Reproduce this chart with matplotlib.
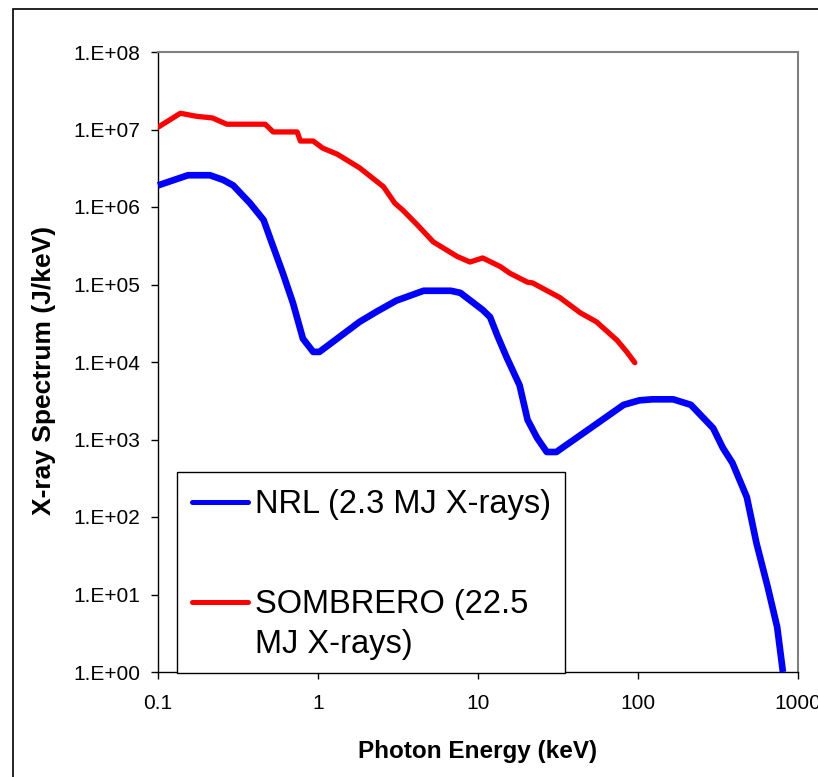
import matplotlib
matplotlib.use("Agg")
import matplotlib.pyplot as plt
from matplotlib.patches import Rectangle
from matplotlib.lines import Line2D
from matplotlib.ticker import FixedLocator, FixedFormatter

plt.rcParams['font.family'] = ['Liberation Sans', 'DejaVu Sans']

# ---- data ----
nrl_energy = [0.1, 0.154, 0.211, 0.255, 0.295, 0.376, 0.457, 0.513, 0.603, 0.698,
              0.805, 0.933, 1.02, 1.23, 1.82, 2.34, 3.09, 4.57, 6.76, 7.76,
              10.7, 11.9, 13.2, 15.1, 18.2, 20.4, 23.4, 26.9, 30.9, 33.9,
              47.9, 81.3, 102, 123, 166, 214, 295, 339, 389, 479,
              550, 646, 741, 805]
nrl_values = [1.9e6, 2.57e6, 2.57e6, 2.24e6, 1.9e6, 1.12e6, 6.8e5, 3.5e5, 1.4e5, 5.75e4,
              2.0e4, 1.35e4, 1.35e4, 1.8e4, 3.3e4, 4.5e4, 6.2e4, 8.3e4, 8.3e4, 7.8e4,
              4.7e4, 3.8e4, 2.2e4, 1.15e4, 5.0e3, 1.8e3, 1.05e3, 6.9e2, 6.9e2, 7.9e2,
              1.3e3, 2.8e3, 3.2e3, 3.3e3, 3.3e3, 2.8e3, 1.4e3, 7.8e2, 5.0e2, 1.8e2,
              46, 12.6, 3.8, 1.0]

sombrero_energy = [0.1, 0.138, 0.174, 0.219, 0.269, 0.468, 0.525, 0.741, 0.776, 0.933,
                   1.07, 1.32, 1.82, 2.57, 3.02, 3.39, 4.17, 5.25, 7.41, 8.91,
                   10.7, 13.8, 15.8, 20.4, 21.9, 32.4, 43.7, 55.0, 74.1, 85.1, 95.5]
sombrero_values = [1.07e7, 1.62e7, 1.48e7, 1.41e7, 1.17e7, 1.17e7, 9.3e6, 9.3e6, 7.1e6, 7.1e6,
                   5.75e6, 4.8e6, 3.2e6, 1.82e6, 1.12e6, 9.1e5, 5.9e5, 3.55e5, 2.3e5, 1.95e5,
                   2.2e5, 1.7e5, 1.4e5, 1.07e5, 1.05e5, 6.8e4, 4.3e4, 3.3e4, 1.9e4, 1.35e4, 9.8e3]

x_ticks = [0.1, 1, 10, 100, 1000]
x_tick_labels = ["0.1", "1", "10", "100", "1000"]
y_ticks = [1e0, 1e1, 1e2, 1e3, 1e4, 1e5, 1e6, 1e7, 1e8]
y_tick_labels = ["1.E+00", "1.E+01", "1.E+02", "1.E+03", "1.E+04",
                 "1.E+05", "1.E+06", "1.E+07", "1.E+08"]

series_labels = ["NRL (2.3 MJ X-rays)", "SOMBRERO (22.5", "MJ X-rays)"]
x_label = "Photon Energy (keV)"
y_label = "X-ray Spectrum (J/keV)"

# ---- figure ----
W, H = 818, 777
fig = plt.figure(figsize=(W / 100, H / 100), dpi=100)

def fx(px):
    return px / W

def fy(py):
    return 1 - py / H

ax = fig.add_axes([fx(158), fy(672), fx(798) - fx(158), fy(52) - fy(672)])
ax.set_xscale('log')
ax.set_yscale('log')

ax.plot(nrl_energy, nrl_values, color='#0000FF', lw=4.8, solid_capstyle='butt',
        solid_joinstyle='round', zorder=3, clip_on=False)
ax.plot(sombrero_energy, sombrero_values, color='#FF0000', lw=3.8, solid_capstyle='round',
        solid_joinstyle='round', zorder=3)

ax.set_xlim(0.1, 1000)
ax.set_ylim(1, 1e8)

ax.xaxis.set_major_locator(FixedLocator(x_ticks))
ax.xaxis.set_major_formatter(FixedFormatter(x_tick_labels))
ax.yaxis.set_major_locator(FixedLocator(y_ticks))
ax.yaxis.set_major_formatter(FixedFormatter(y_tick_labels))
ax.xaxis.set_minor_locator(FixedLocator([]))
ax.yaxis.set_minor_locator(FixedLocator([]))

ax.tick_params(axis='both', which='major', direction='out', length=5, width=1,
               color='black', labelsize=15, labelcolor='black')
ax.tick_params(axis='x', pad=11)
ax.tick_params(axis='y', pad=8)

for side in ['left', 'bottom']:
    ax.spines[side].set_color('black')
    ax.spines[side].set_linewidth(1.0)
for side in ['top', 'right']:
    ax.spines[side].set_color('#808080')
    ax.spines[side].set_linewidth(1.5)

# axis titles
fig.text(fx(478), fy(758), x_label, ha='center', va='baseline',
         fontsize=17.5, fontweight='bold')
fig.text(fx(44), fy(370), y_label, ha='center', va='center', rotation=90,
         fontsize=19, fontweight='bold')

# legend (drawn like the Excel legend box)
leg_box = Rectangle((fx(177), fy(673)), fx(565) - fx(177), fy(472) - fy(673),
                    transform=fig.transFigure, facecolor='white', edgecolor='black',
                    linewidth=1.0, zorder=5)
fig.patches.append(leg_box)
fig.lines.append(Line2D([fx(192), fx(248)], [fy(502), fy(502)], transform=fig.transFigure,
                        color='#0000FF', lw=3.6, solid_capstyle='round', zorder=6))
fig.lines.append(Line2D([fx(192), fx(248)], [fy(602), fy(602)], transform=fig.transFigure,
                        color='#FF0000', lw=3.6, solid_capstyle='round', zorder=6))
fig.text(fx(255), fy(513), series_labels[0], ha='left', va='baseline', fontsize=23.5, zorder=7)
fig.text(fx(255), fy(613), series_labels[1], ha='left', va='baseline', fontsize=23.5, zorder=7)
fig.text(fx(255), fy(653), series_labels[2], ha='left', va='baseline', fontsize=23.5, zorder=7)

# outer chart border
border = Rectangle((fx(13), fy(2000)), fx(2000), fy(9) - fy(2000), transform=fig.transFigure,
                   facecolor='none', edgecolor='black', linewidth=1.2, zorder=10)
fig.patches.append(border)

fig.savefig('out.png', dpi=100)
